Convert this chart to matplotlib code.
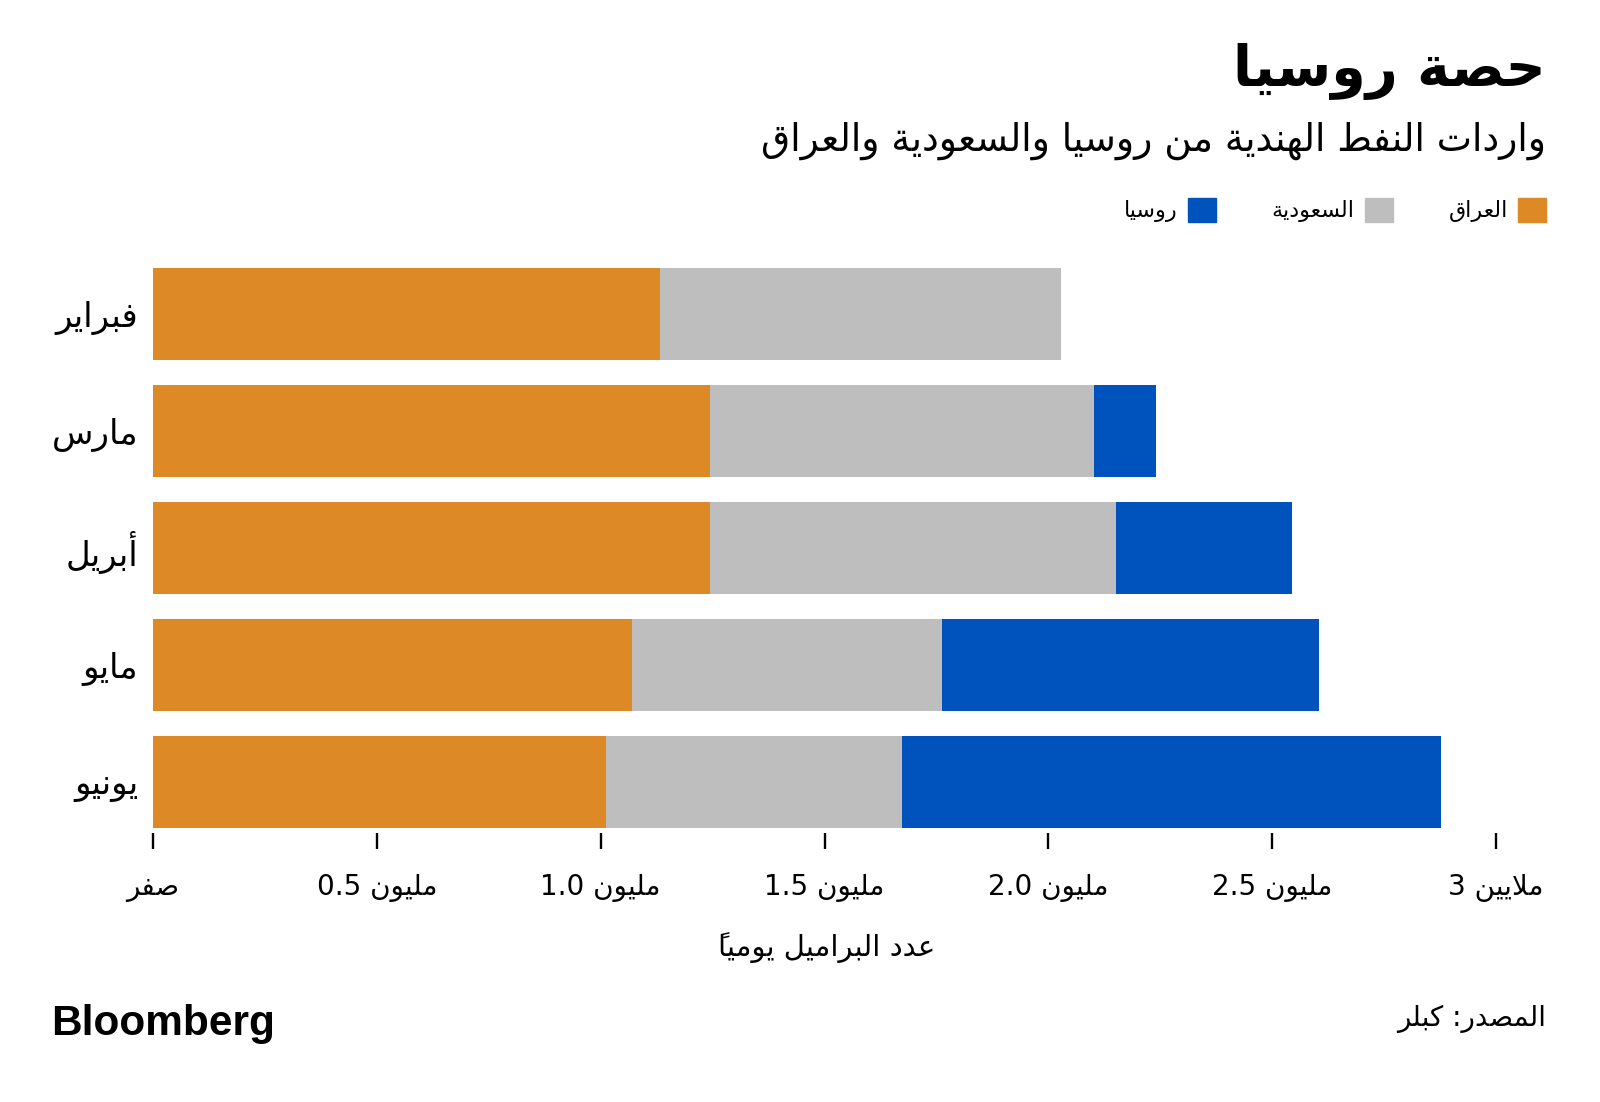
import matplotlib
matplotlib.use("Agg")
import matplotlib.pyplot as plt
from matplotlib.patches import Patch

# البيانات (مليون برميل يومياً)
months = ["فبراير", "مارس", "أبريل", "مايو", "يونيو"]
iraq = [1.133, 1.245, 1.245, 1.069, 1.012]
saudi = [0.896, 0.857, 0.907, 0.693, 0.661]
russia = [0.0, 0.139, 0.392, 0.843, 1.204]

series_names = ["العراق", "السعودية", "روسيا"]
tick_values = [0, 0.5, 1.0, 1.5, 2.0, 2.5, 3.0]
tick_nums = ["", "0.5", "1.0", "1.5", "2.0", "2.5", "3"]
tick_words = ["صفر", "مليون", "مليون", "مليون", "مليون", "مليون", "ملايين"]

title = "حصة روسيا"
subtitle = "واردات النفط الهندية من روسيا والسعودية والعراق"
xlabel = "عدد البراميل يومياً"
source = "المصدر: كبلر"

ORANGE = "#DC8926"
GREY = "#BEBEBE"
BLUE = "#0053BD"

# --- تشكيل بسيط للحروف العربية (matplotlib لا يدعم الربط ولا الاتجاه من اليمين لليسار)
FORMS = {
    "ء": (0xFE80, None, None, None),
    "آ": (0xFE81, 0xFE82, None, None),
    "أ": (0xFE83, 0xFE84, None, None),
    "إ": (0xFE87, 0xFE88, None, None),
    "ا": (0xFE8D, 0xFE8E, None, None),
    "ب": (0xFE8F, 0xFE90, 0xFE91, 0xFE92),
    "ة": (0xFE93, 0xFE94, None, None),
    "ت": (0xFE95, 0xFE96, 0xFE97, 0xFE98),
    "ث": (0xFE99, 0xFE9A, 0xFE9B, 0xFE9C),
    "ج": (0xFE9D, 0xFE9E, 0xFE9F, 0xFEA0),
    "ح": (0xFEA1, 0xFEA2, 0xFEA3, 0xFEA4),
    "خ": (0xFEA5, 0xFEA6, 0xFEA7, 0xFEA8),
    "د": (0xFEA9, 0xFEAA, None, None),
    "ذ": (0xFEAB, 0xFEAC, None, None),
    "ر": (0xFEAD, 0xFEAE, None, None),
    "ز": (0xFEAF, 0xFEB0, None, None),
    "س": (0xFEB1, 0xFEB2, 0xFEB3, 0xFEB4),
    "ش": (0xFEB5, 0xFEB6, 0xFEB7, 0xFEB8),
    "ص": (0xFEB9, 0xFEBA, 0xFEBB, 0xFEBC),
    "ض": (0xFEBD, 0xFEBE, 0xFEBF, 0xFEC0),
    "ط": (0xFEC1, 0xFEC2, 0xFEC3, 0xFEC4),
    "ظ": (0xFEC5, 0xFEC6, 0xFEC7, 0xFEC8),
    "ع": (0xFEC9, 0xFECA, 0xFECB, 0xFECC),
    "غ": (0xFECD, 0xFECE, 0xFECF, 0xFED0),
    "ف": (0xFED1, 0xFED2, 0xFED3, 0xFED4),
    "ق": (0xFED5, 0xFED6, 0xFED7, 0xFED8),
    "ك": (0xFED9, 0xFEDA, 0xFEDB, 0xFEDC),
    "ل": (0xFEDD, 0xFEDE, 0xFEDF, 0xFEE0),
    "م": (0xFEE1, 0xFEE2, 0xFEE3, 0xFEE4),
    "ن": (0xFEE5, 0xFEE6, 0xFEE7, 0xFEE8),
    "ه": (0xFEE9, 0xFEEA, 0xFEEB, 0xFEEC),
    "و": (0xFEED, 0xFEEE, None, None),
    "ى": (0xFEEF, 0xFEF0, None, None),
    "ي": (0xFEF1, 0xFEF2, 0xFEF3, 0xFEF4),
}
LAM_ALEF = {"آ": (0xFEF5, 0xFEF6), "أ": (0xFEF7, 0xFEF8),
            "إ": (0xFEF9, 0xFEFA), "ا": (0xFEFB, 0xFEFC)}


def is_mark(c):
    return 0x064B <= ord(c) <= 0x0652


def shape(text):
    # حروف -> رموز (مع دمج لام ألف)
    toks = []
    i = 0
    while i < len(text):
        c = text[i]
        if c == "ل" and i + 1 < len(text) and text[i + 1] in LAM_ALEF:
            iso, fin = LAM_ALEF[text[i + 1]]
            toks.append([(iso, fin, None, None), ""])
            i += 2
        elif is_mark(c) and toks:
            toks[-1][1] += c
            i += 1
        else:
            toks.append([FORMS.get(c, c), ""])
            i += 1
    out = []
    for k, (f, marks) in enumerate(toks):
        if not isinstance(f, tuple):
            out.append(f + marks)
            continue
        prev = toks[k - 1][0] if k > 0 else None
        nxt = toks[k + 1][0] if k + 1 < len(toks) else None
        cp = isinstance(prev, tuple) and prev[2] is not None
        cn = f[2] is not None and isinstance(nxt, tuple)
        if cp and cn:
            g = f[3]
        elif cp:
            g = f[1]
        elif cn:
            g = f[2]
        else:
            g = f[0]
        # الحركة قبل الحرف في الترتيب المرئي حتى تقع فوقه
        out.append(marks + chr(g))
    return "".join(reversed(out))


plt.rcParams["font.family"] = ["DejaVu Sans"]

fig = plt.figure(figsize=(16, 11.02), dpi=100)
ax = fig.add_axes([153 / 1600, 1 - 833 / 1102, 1343 / 1600, 577 / 1102])

y = list(range(len(months)))
h = 0.79
ax.barh(y, iraq, height=h, color=ORANGE)
left2 = iraq
ax.barh(y, saudi, left=left2, height=h, color=GREY)
left3 = [a + b for a, b in zip(iraq, saudi)]
ax.barh(y, russia, left=left3, height=h, color=BLUE)

ax.set_xlim(0, 3.0)
ax.set_ylim(4.438, -0.498)
for s in ax.spines.values():
    s.set_visible(False)

ax.set_yticks(y, [shape(m) for m in months], fontsize=24.5)
ax.tick_params(axis="y", left=False, pad=7)

xt_labels = [(n + " " + shape(w)) if n else shape(w) for n, w in zip(tick_nums, tick_words)]
ax.set_xticks(tick_values, xt_labels, fontsize=20)
ax.tick_params(axis="x", direction="out", length=11.5, width=1.7, color="black", pad=18)

fig.text(827 / 1600, 1 - 948 / 1102, shape(xlabel), ha="center", va="center", fontsize=21)

fig.text(1546 / 1600, 1 - 71 / 1102, shape(title), ha="right", va="center",
         fontsize=40, fontweight="bold")
fig.text(1546 / 1600, 1 - 141 / 1102, shape(subtitle), ha="right", va="center", fontsize=27)

colors = [ORANGE, GREY, BLUE]
handles = [Patch(color=c) for c in colors][::-1]
labels = [shape(s) for s in series_names][::-1]
fig.legend(handles, labels, loc="center right", bbox_to_anchor=(1546 / 1600, 1 - 210 / 1102),
           ncol=3, frameon=False, markerfirst=False, fontsize=16,
           handlelength=1.27, handleheight=1.27, handletextpad=0.45,
           columnspacing=2.5, borderpad=0, borderaxespad=0)

fig.text(51 / 1600, 1 - 1024 / 1102, "Bloomberg", ha="left", va="center",
         fontsize=30.5, fontweight="bold", family="Liberation Sans")
fig.text(1546 / 1600, 1 - 1019 / 1102, shape(source), ha="right", va="center", fontsize=20)

fig.savefig("out.png", dpi=100, facecolor="white")
